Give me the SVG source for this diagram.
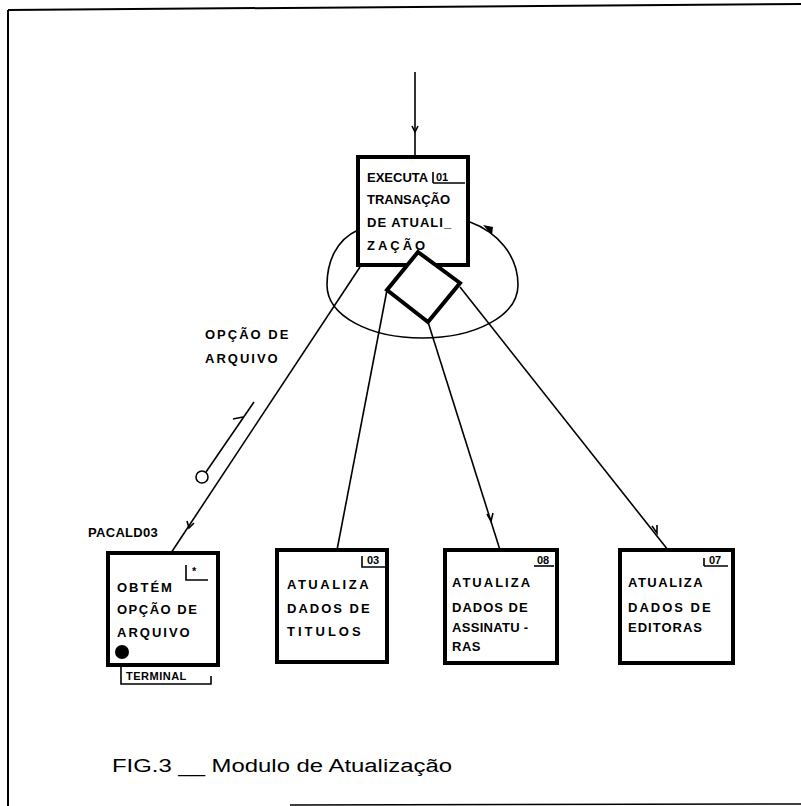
<svg xmlns="http://www.w3.org/2000/svg" width="801" height="806" viewBox="0 0 801 806">
<style>
.box{fill:#fff;stroke:#000;stroke-width:4}
.ln{fill:none;stroke:#000;stroke-width:1.6}
.t{font-family:"Liberation Sans",Arial,sans-serif;font-weight:bold;font-size:13px;fill:#000;letter-spacing:2px}
.s{font-family:"Liberation Sans",Arial,sans-serif;font-weight:bold;font-size:11px;fill:#000}
.cap{font-family:"Liberation Sans",Arial,sans-serif;font-size:18px;fill:#000}
</style>
<rect width="801" height="806" fill="#fff"/>
<g id="frame">
<path d="M8,10 L801,4" stroke="#000" stroke-width="2" fill="none"/>
<path d="M8,10 L8,806" stroke="#000" stroke-width="2" fill="none"/>
<path d="M290,805 L801,804" stroke="#000" stroke-width="1.5" fill="none"/>
</g>
<g id="connectors">
<path class="ln" d="M415,72 L415,157"/>
<path class="ln" d="M412,126 L415,132 L418,126"/>
<path class="ln" d="M358,230 C336,240 327,262 327,285 C327,316 370,338 422,338 C475,338 518,316 518,285 C518,255 497,232 470,222"/>
<path d="M483,225 L492,235 L493,227 Z" fill="#000"/>
<path class="ln" d="M360,267 L171,553"/>
<path class="ln" d="M187,521 L189,528 L194,523"/>
<path class="ln" d="M387,290 L337,550"/>
<path class="ln" d="M428,322 L500,550"/>
<path class="ln" d="M487,514 L491,521 L493,513"/>
<path class="ln" d="M460,287 L668,550"/>
<path class="ln" d="M652,526 L657,533 L657,525"/>
</g>
<g id="couple">
<circle cx="202" cy="477" r="6" fill="#fff" stroke="#000" stroke-width="1.6"/>
<path class="ln" d="M206,472 L254,402"/>
<path class="ln" d="M233,419 L243,417"/>
</g>
<g id="label-opcao">
<text class="t" x="205" y="339">OPÇÃO DE</text>
<text class="t" x="205" y="363">ARQUIVO</text>
</g>
<g id="label-pacald">
<text class="t" x="88" y="537" style="letter-spacing:0.3px">PACALD03</text>
</g>
<g id="m01">
<rect class="box" x="358" y="157" width="110" height="108"/>
<text class="t" x="367" y="182" style="letter-spacing:0px">EXECUTA</text>
<text class="s" x="436" y="181">01</text>
<path class="ln" d="M433,183 L465,183 M433,183 L433,172"/>
<text class="t" x="367" y="204" style="letter-spacing:0px">TRANSAÇÃO</text>
<text class="t" x="367" y="227" style="letter-spacing:1px">DE ATUALI_</text>
<text class="t" x="367" y="250" style="letter-spacing:3px">ZAÇÃO</text>
</g>
<g id="diamond">
<path d="M418,252 L460,283 L428,322 L387,290 Z" fill="#fff" stroke="#000" stroke-width="4"/>
</g>
<g id="m-obtem">
<rect class="box" x="108" y="553" width="110" height="112"/>
<path class="ln" d="M186,565 L186,580 L208,580"/>
<text class="s" x="192" y="575">*</text>
<text class="t" x="117" y="592">OBTÉM</text>
<text class="t" x="117" y="614" style="letter-spacing:1.5px">OPÇÃO DE</text>
<text class="t" x="117" y="637">ARQUIVO</text>
<circle cx="122" cy="652" r="7" fill="#000"/>
<path class="ln" d="M121,663 L121,684 L211,684 L211,676"/>
<text class="s" x="126" y="680" style="letter-spacing:0.5px">TERMINAL</text>
</g>
<g id="m03">
<rect class="box" x="277" y="550" width="110" height="112"/>
<path class="ln" d="M362,556 L362,567 L385,567"/>
<text class="s" x="367" y="564">03</text>
<text class="t" x="287" y="589" style="letter-spacing:2.5px">ATUALIZA</text>
<text class="t" x="287" y="613">DADOS DE</text>
<text class="t" x="287" y="636" style="letter-spacing:3px">TITULOS</text>
</g>
<g id="m08">
<rect class="box" x="445" y="550" width="112" height="113"/>
<text class="s" x="537" y="564">08</text>
<path class="ln" d="M534,566 L554,566"/>
<text class="t" x="452" y="587" style="letter-spacing:2px">ATUALIZA</text>
<text class="t" x="452" y="612" style="letter-spacing:1px">DADOS DE</text>
<text class="t" x="452" y="632" style="letter-spacing:0.3px">ASSINATU -</text>
<text class="t" x="452" y="651" style="letter-spacing:0.5px">RAS</text>
</g>
<g id="m07">
<rect class="box" x="620" y="550" width="113" height="113"/>
<text class="s" x="709" y="564">07</text>
<path class="ln" d="M704,566 L728,566 M704,566 L704,558"/>
<text class="t" x="628" y="587" style="letter-spacing:1.5px">ATUALIZA</text>
<text class="t" x="628" y="612" style="letter-spacing:2px">DADOS DE</text>
<text class="t" x="628" y="632" style="letter-spacing:1px">EDITORAS</text>
</g>
<g id="caption">
<text class="cap" x="112" y="772" textLength="340" lengthAdjust="spacingAndGlyphs">FIG.3 __ Modulo de Atualização</text>
</g>
</svg>
